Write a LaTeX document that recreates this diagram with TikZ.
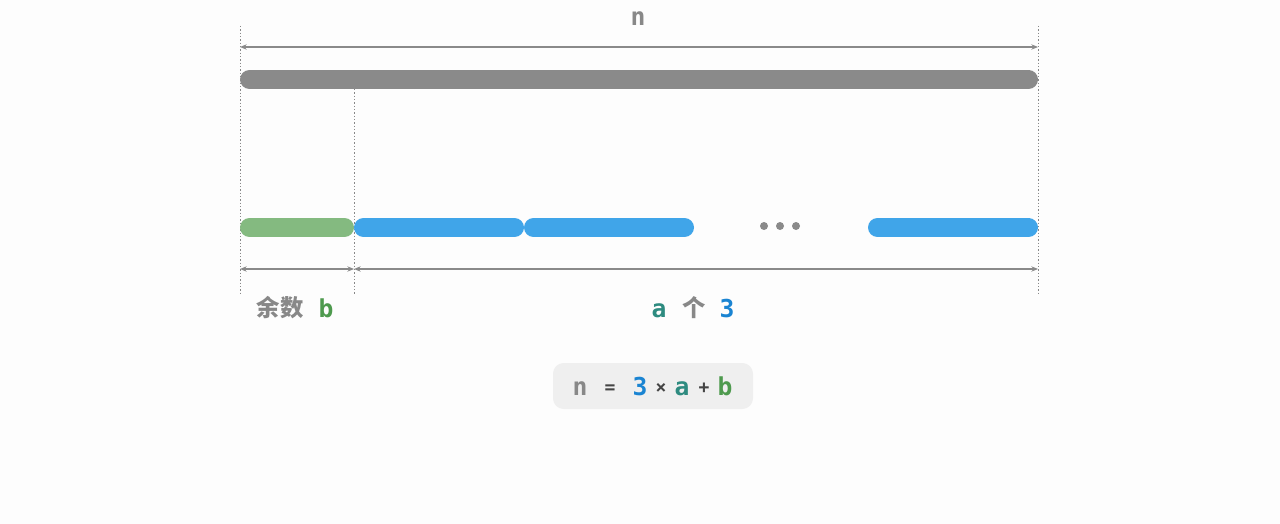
\documentclass[tikz,border=0pt]{standalone}
\usepackage{fontspec}
\setmonofont{DejaVu Sans Mono}
\newfontfamily\cjk{Noto Sans CJK SC}
\usetikzlibrary{arrows.meta}
\definecolor{bg}{HTML}{FDFDFD}
\definecolor{graybar}{HTML}{8A8A8A}
\definecolor{greenbar}{HTML}{84BA80}
\definecolor{bluebar}{HTML}{40A5E9}
\definecolor{txtgray}{HTML}{888888}
\definecolor{txtgreen}{HTML}{4E9A4E}
\definecolor{txtteal}{HTML}{2E8B80}
\definecolor{txtblue}{HTML}{1A84D2}
\definecolor{txtdark}{HTML}{444444}
\definecolor{boxfill}{HTML}{EFEFEF}
\tikzset{
  bar/.style={line width=14.25pt, line cap=round},
  guide/.style={draw=txtgray, line width=0.5pt, dash pattern=on 1pt off 1.5pt},
  dim/.style={draw=graybar, line width=1.5pt, {Stealth[length=5pt,width=4pt]}-{Stealth[length=5pt,width=4pt]}},
  lbl/.style={inner sep=0pt, anchor=base, font=\ttfamily\bfseries\fontsize{18.5}{20}\selectfont},
  op/.style={inner sep=0pt, anchor=base, text=txtdark, font=\ttfamily\bfseries\fontsize{13.5}{15}\selectfont},
  cj/.style={inner sep=0pt, anchor=base, font=\cjk\bfseries\fontsize{17.5}{20}\selectfont, text=txtgray},
  dot/.style={circle, fill=graybar, inner sep=0pt, minimum size=6pt},
}
\begin{document}
\begin{tikzpicture}[x=0.75pt,y=-0.75pt]
\fill[bg] (0,0) rectangle (1280,524);
% guide coordinates
\coordinate (g1t) at (240,26);
\coordinate (g1b) at (240,295);
\coordinate (g2t) at (354,89);
\coordinate (g2b) at (354,295);
\coordinate (g3t) at (1038,26);
\coordinate (g3b) at (1038,295);
\draw[guide] (g1t) -- (g1b);
\draw[guide] (g2t) -- (g2b);
\draw[guide] (g3t) -- (g3b);
% top dimension
\coordinate (ta) at (240,47);
\coordinate (tb) at (1038,47);
\draw[dim] (ta) -- (tb);
\node[lbl, text=txtgray] (nlab) at (638,26) {n};
% gray bar
\coordinate (gb1) at (249.5,79.5);
\coordinate (gb2) at (1028.5,79.5);
\draw[bar, graybar] (gb1) -- (gb2);
% green bar
\coordinate (gr1) at (249.5,227.5);
\coordinate (gr2) at (344.5,227.5);
\draw[bar, greenbar] (gr1) -- (gr2);
% blue bars
\coordinate (b11) at (363.5,227.5);
\coordinate (b12) at (514.5,227.5);
\coordinate (b21) at (533.5,227.5);
\coordinate (b22) at (684.5,227.5);
\coordinate (b31) at (877.5,227.5);
\coordinate (b32) at (1028.5,227.5);
\draw[bar, bluebar] (b11) -- (b12);
\draw[bar, bluebar] (b21) -- (b22);
\draw[bar, bluebar] (b31) -- (b32);
% dots
\node[dot] (d1) at (764,226) {};
\node[dot] (d2) at (780,226) {};
\node[dot] (d3) at (796,226) {};
% bottom dimensions
\coordinate (ba) at (240,269);
\coordinate (bb) at (354,269);
\coordinate (bc) at (1038,269);
\draw[dim] (ba) -- (bb);
\draw[dim] (bb) -- (bc);
% labels
\node[cj] (yushu) at (280,316) {余数};
\node[lbl, text=txtgreen] (blab) at (326,317) {b};
\node[lbl, text=txtteal] (alab) at (659,317) {a};
\node[cj] (ge) at (694,316) {个};
\node[lbl, text=txtblue] (threelab) at (727,317) {3};
% formula box
\node[fill=boxfill, rounded corners=8pt, minimum width=150pt, minimum height=34.5pt, inner sep=0pt] (box) at (653,386) {};
\node[lbl, text=txtgray] (fn) at (580,395) {n};
\node[op] (feq) at (610,393) {=};
\node[lbl, text=txtblue] (f3) at (640,395) {3};
\node[op] (ftimes) at (661,393) {×};
\node[lbl, text=txtteal] (fa) at (682,395) {a};
\node[op] (fplus) at (704,393) {+};
\node[lbl, text=txtgreen] (fb) at (725,395) {b};
\end{tikzpicture}
\end{document}
